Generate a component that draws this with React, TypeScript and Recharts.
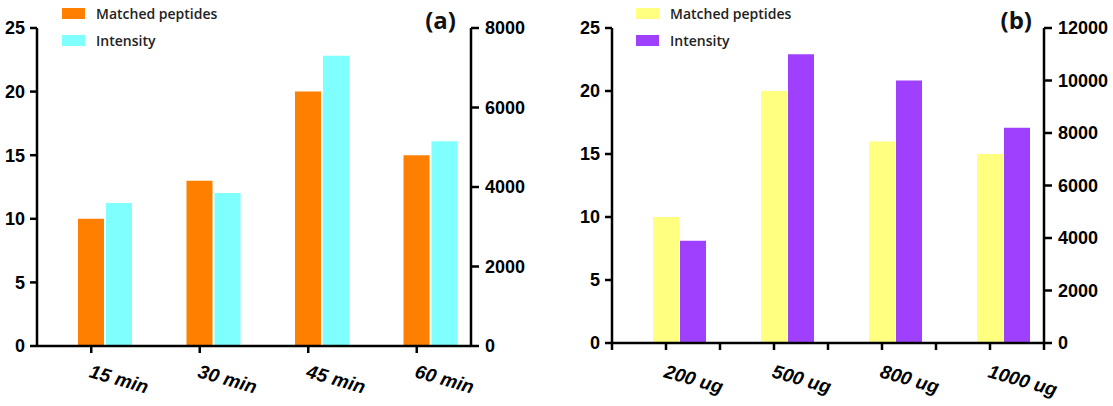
import React from "react";
import { Bar, BarChart, Legend, XAxis, YAxis } from "recharts";

// panel (a): digestion time
const timeLabels = ["15 min", "30 min", "45 min", "60 min"];
const timePeptides = [10, 13, 20, 15];
const timeIntensity = [3600, 3850, 7300, 5150];

// panel (b): protein amount
const amountLabels = ["200 ug", "500 ug", "800 ug", "1000 ug"];
const amountPeptides = [10, 20, 16, 15];
const amountIntensity = [3900, 11000, 10000, 8200];

const peptideTicks = [0, 5, 10, 15, 20, 25];
const timeIntensityTicks = [0, 2000, 4000, 6000, 8000];
const amountIntensityTicks = [0, 2000, 4000, 6000, 8000, 10000, 12000];

const seriesNames = ["Matched peptides", "Intensity"];

const FONT = "'Liberation Sans', Arial, sans-serif";
const AXIS = { stroke: "#000", strokeWidth: 2.5 };

// y tick labels, bold like the figure
const yTick = (anchor: "start" | "end") => (t: any) => (
  <text
    x={t.x}
    y={t.y}
    dy="0.36em"
    textAnchor={anchor}
    fontFamily={FONT}
    fontSize={18}
    fontWeight="bold"
    fill="#000"
  >
    {t.payload.value}
  </text>
);

interface PanelProps {
  labels: string[];
  peptides: number[];
  intensity: number[];
  intensityTicks: number[];
  colors: string[];
  tag: string;
  width: number;
  leftW: number;
  rightW: number;
  xAxisH: number;
  barGap: number;
  legendLeft: number;
  tagRight: number;
  minorTicks?: boolean;
}

const Panel: React.FC<PanelProps> = (p) => {
  // spacer has no values: it only pushes the pair so the first bar sits on the tick
  const data = p.labels.map((name, i) => ({
    name,
    peptides: p.peptides[i],
    intensity: p.intensity[i],
  }));
  const intensityMax = p.intensityTicks[p.intensityTicks.length - 1];
  const drop = 377 - (406 - p.xAxisH) - 9;

  const renderTick = (t: any) => {
    const { x, y, payload, index } = t;
    const axisY = y - 9;
    const half = payload && payload.offset ? payload.offset : 54;
    return (
      <g>
        {p.minorTicks && (
          <line x1={x + half} x2={x + half} y1={axisY} y2={axisY + 7} stroke="#000" strokeWidth={2.5} />
        )}
        {p.minorTicks && index === 0 && (
          <line x1={x - half} x2={x - half} y1={axisY} y2={axisY + 7} stroke="#000" strokeWidth={2.5} />
        )}
        <text
          x={x - 3}
          y={y + drop}
          transform={`rotate(16, ${x - 3}, ${y + drop})`}
          textAnchor="start"
          fontFamily={FONT}
          fontSize={19}
          fontWeight="bold"
          fontStyle="italic"
          fill="#000"
        >
          {payload.value}
        </text>
      </g>
    );
  };

  const renderLegend = () => (
    <div style={{ fontFamily: "'Open Sans', sans-serif", fontSize: 14, fontWeight: 600, color: "#222" }}>
      {seriesNames.map((n, i) => (
        <div key={n} style={{ display: "flex", alignItems: "center", height: 27 }}>
          <span style={{ display: "inline-block", width: 23, height: 11, background: p.colors[i], marginRight: 11 }} />
          {n}
        </div>
      ))}
    </div>
  );

  return (
    <div style={{ position: "relative", width: p.width, height: 406 }}>
      <BarChart
        width={p.width}
        height={406}
        data={data}
        margin={{ top: 28, right: 0, bottom: 0, left: 0 }}
        barSize={26}
        barGap={p.barGap}
      >
        <XAxis
          dataKey="name"
          height={p.xAxisH}
          axisLine={AXIS}
          tickLine={AXIS}
          tickSize={7}
          tickMargin={2}
          interval={0}
          tick={renderTick}
        />
        <YAxis
          yAxisId="left"
          orientation="left"
          width={p.leftW}
          domain={[0, 25]}
          ticks={peptideTicks}
          interval={0}
          axisLine={AXIS}
          tickLine={AXIS}
          tickSize={7}
          tickMargin={5}
          tick={yTick("end")}
        />
        <YAxis
          yAxisId="right"
          orientation="right"
          width={p.rightW}
          domain={[0, intensityMax]}
          ticks={p.intensityTicks}
          interval={0}
          axisLine={AXIS}
          tickLine={AXIS}
          tickSize={8}
          tickMargin={6}
          tick={yTick("start")}
        />
        <Legend
          layout="vertical"
          align="center"
          verticalAlign="middle"
          content={renderLegend}
          wrapperStyle={{ left: p.legendLeft, top: 0, width: 220, height: 60 }}
        />
        <Bar yAxisId="left" dataKey="spacer" fill="none" isAnimationActive={false} legendType="none" />
        <Bar yAxisId="left" dataKey="peptides" name={seriesNames[0]} fill={p.colors[0]} isAnimationActive={false} />
        <Bar yAxisId="right" dataKey="intensity" name={seriesNames[1]} fill={p.colors[1]} isAnimationActive={false} />
      </BarChart>
      <svg width={p.width} height={40} style={{ position: "absolute", left: 0, top: 0, pointerEvents: "none" }}>
        <text
          x={p.tagRight}
          y={29}
          textAnchor="end"
          fontFamily="'Open Sans', sans-serif"
          fontSize={24}
          fontWeight={700}
          fill="#111"
        >
          {p.tag}
        </text>
      </svg>
    </div>
  );
};

export default function App() {
  return (
    <div style={{ position: "absolute", left: 0, top: 0, width: 1113, height: 406, background: "#fff", display: "flex" }}>
      <Panel
        labels={timeLabels}
        peptides={timePeptides}
        intensity={timeIntensity}
        intensityTicks={timeIntensityTicks}
        colors={["#FF8000", "#80FFFF"]}
        tag="(a)"
        width={556}
        leftW={37}
        rightW={85}
        xAxisH={60}
        barGap={2}
        legendLeft={62}
        tagRight={456}
      />
      <Panel
        labels={amountLabels}
        peptides={amountPeptides}
        intensity={amountIntensity}
        intensityTicks={amountIntensityTicks}
        colors={["#FFFF80", "#A040FF"]}
        tag="(b)"
        width={557}
        leftW={56}
        rightW={69}
        xAxisH={63}
        barGap={1}
        legendLeft={80}
        tagRight={476}
        minorTicks
      />
    </div>
  );
}
